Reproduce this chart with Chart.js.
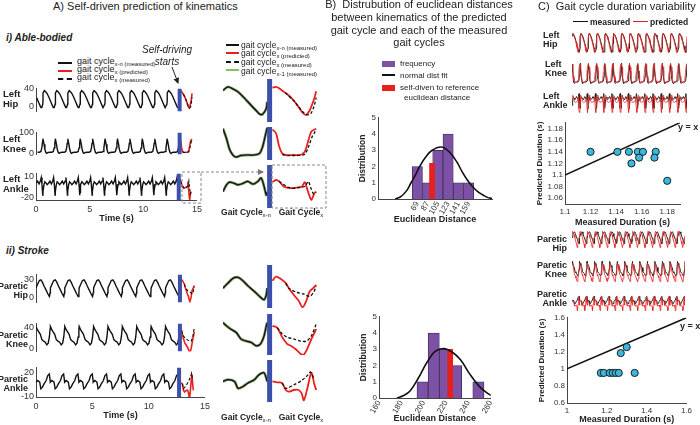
<!DOCTYPE html>
<html>
<head>
<meta charset="utf-8">
<script src="https://cdn.jsdelivr.net/npm/chart.js@4.4.1/dist/chart.umd.min.js"></script>
<style>
  body { margin: 0; background: #fff; }
  #fig { position: relative; width: 700px; height: 425px; overflow: hidden;
         font-family: 'Liberation Sans', Arial, sans-serif; color: #222; }
  #fig canvas { position: absolute; }
  .t { position: absolute; white-space: nowrap; line-height: 1.05; }
  sub { font-size: 6px; vertical-align: -2px; line-height: 0; font-weight: normal; }
  .sw { position: absolute; }
</style>
</head>
<body>
<div id="fig">
  <svg width="700" height="425" style="position:absolute;left:0;top:0;z-index:5;pointer-events:none">
    <defs>
      <marker id="ah" markerWidth="6" markerHeight="6" refX="5" refY="3" orient="auto">
        <path d="M0,0 L6,3 L0,6 z" fill="#777"/>
      </marker>
      <marker id="ak" markerWidth="6" markerHeight="6" refX="5" refY="3" orient="auto">
        <path d="M0,0 L6,3 L0,6 z" fill="#222"/>
      </marker>
    </defs>
    <rect x="182" y="172" width="19" height="31" fill="none" stroke="#888" stroke-width="1" stroke-dasharray="3,2"/>
    <line x1="201" y1="172" x2="263" y2="172" stroke="#888" stroke-width="1" stroke-dasharray="3,2" marker-end="url(#ah)"/>
    <rect x="272" y="165" width="54" height="43" fill="none" stroke="#888" stroke-width="1" stroke-dasharray="3,2"/>
    <line x1="172" y1="67" x2="178" y2="83" stroke="#222" stroke-width="1" marker-end="url(#ak)"/>
  </svg>
</div>
<script>
// ---- data ----
const timeTicks = [0, 5, 10, 15];

// one gait cycle per joint: [% of cycle, joint angle in deg]
// prev = cycle x-n (measured), pred = cycle x (predicted), meas = cycle x (measured)
const ableHipPrev = [[0,30],[11,35],[23,32],[34,28],[49,19],[64,9],[75,2],[83,-3],[90,-3],[98,5],[100,14]];
const ableHipPred = [[1,34],[9,35],[16,33],[27,28],[38,23],[49,16],[60,7],[69,-1],[77,-4],[85,2],[94,16],[100,29]];
const ableHipMeas = [[30,27],[50,15],[70,0],[80,-4],[88,-2],[95,8],[100,20]];

const ableKneePrev = [[0,68],[8,44],[15,18],[23,4],[30,0],[41,4],[56,5],[71,5],[83,9],[90,26],[95,48],[100,70]];
const ableKneePred = [[1,66],[9,57],[16,26],[23,9],[34,4],[49,5],[64,5],[74,13],[82,39],[89,61],[100,68]];
const ableKneeMeas = [[23,6],[40,4],[60,4],[74,7],[82,23],[90,47],[96,58],[100,66]];

const ableAnklePrev = [[0,-12],[8,-2],[15,2],[26,0],[34,-2],[45,0],[56,3],[68,-1],[79,3],[86,8],[92,-2],[98,-17],[100,-13]];
const ableAnklePred = [[1,2],[9,5],[16,3],[27,-5],[42,-7],[56,-6],[67,-5],[74,2],[78,-5],[84,-17],[89,-24],[96,-14],[100,-12]];
const ableAnkleMeas = [[16,3],[27,-2],[42,-7],[60,-6],[75,-4],[82,3],[88,-7],[94,-15],[100,-13]];

const strokeHipPrev = [[0,16],[11,22],[23,28],[34,29],[45,25],[56,19],[71,12],[83,6],[93,2],[98,8],[100,16]];
const strokeHipPred = [[1,25],[9,30],[20,27],[31,22],[38,16],[49,8],[60,1],[69,-7],[77,0],[85,12],[93,16],[100,20]];
const strokeHipMeas = [[31,22],[38,16],[56,11],[71,9],[85,6],[94,11],[100,18]];

const strokeKneePrev = [[0,42],[8,37],[18,32],[30,27],[41,17],[53,14],[64,12],[75,7],[85,10],[93,22],[98,37],[100,42]];
const strokeKneePred = [[1,37],[12,34],[23,20],[34,10],[42,7],[53,2],[64,-5],[71,-7],[78,0],[89,17],[100,32]];
const strokeKneeMeas = [[12,34],[23,25],[34,20],[50,17],[65,14],[78,14],[89,22],[100,40]];

const strokeAnklePrev = [[0,8],[11,10],[26,8],[34,0],[45,2],[56,6],[71,10],[82,16],[93,18],[99,10],[100,8]];
const strokeAnklePred = [[1,8],[12,7],[23,6],[31,-2],[38,-4],[49,-2],[60,-2],[67,-6],[72,-14],[80,0],[89,18],[96,4],[100,-2]];
const strokeAnkleMeas = [[23,6],[31,0],[49,4],[67,9],[82,16],[87,19],[94,12]];

const periodAble = 1.15, periodStroke = 1.27;       // s
const selfDriveAble = 13.3, selfDriveStroke = 12.7;  // s
const miniCyclesAble = 14, miniCyclesStroke = 15;

// B) histograms of euclidean distance
const ableBins = [69, 87, 105, 123, 141, 159];
const ableCounts = [2, 1, 3, 4, 1, 1];
const ableSelf = [[90.4, 2.2]];
const ableFit = [[30,0],[40,0.15],[50,0.5],[58,1.0],[66,1.5],[73,2.0],[84,2.6],[95,3.0],[111,3.2],[125,2.9],[138,2.3],[148,1.65],[157,1.15],[166,0.75],[175,0.45],[184,0.25],[192,0.1],[200,0.03]];

const strokeBins = [199, 209, 219, 229, 239, 249];
const strokeCounts = [1, 4, 3, 2, 0, 1];
const strokeSelf = [[221.5, 3]];
const strokeFit = [[176,0],[182,0.15],[188,0.45],[195,1.2],[203,2.2],[210,2.85],[218,3.05],[226,2.8],[233,2.35],[241,1.5],[250,0.7],[258,0.25],[262,0.1]];
const distTicks = [0, 1, 2, 3, 4, 5];
const strokeDistTicks = [160, 180, 200, 220, 240, 260];

// C) gait cycle durations (s)
const ableMeasured  = [1.12, 1.141, 1.150, 1.152, 1.157, 1.158, 1.161, 1.171, 1.170, 1.180];
const ablePredicted = [1.14, 1.14, 1.14, 1.12, 1.14, 1.13, 1.14, 1.14, 1.13, 1.09];
const strokeMeasured  = [1.17, 1.185, 1.215, 1.23, 1.245, 1.26, 1.34, 1.27, 1.30];
const strokePredicted = [0.953, 0.953, 0.953, 0.953, 0.953, 0.953, 0.953, 1.186, 1.256];
const ableDurTicksX = [1.1, 1.12, 1.14, 1.16, 1.18];
const ableDurTicksY = [1.06, 1.08, 1.1, 1.12, 1.14, 1.16, 1.18];
const strokeDurTicksX = [1, 1.2, 1.4, 1.6];
const strokeDurTicksY = [0.6, 0.8, 1, 1.2, 1.4, 1.6];

// ---- helpers ----
const BLUE = '#3c4fab', RED = '#e8201c', GREEN = '#86c25c', PURPLE = '#7d52a6', CYAN = '#3cb8de';
const fig = document.getElementById('fig');

Chart.defaults.font.family = "'Liberation Sans', Arial, sans-serif";
Chart.defaults.color = '#333';
Chart.defaults.animation = false;
Chart.defaults.plugins.legend.display = false;
Chart.defaults.plugins.tooltip.enabled = false;
Chart.defaults.elements.point.radius = 0;

function label(x, y, html, size, extra = '', align = 'l') {
  const d = document.createElement('div');
  d.className = 't';
  const tx = align === 'c' ? '-50%' : align === 'r' ? '-100%' : '0';
  d.style.cssText = `left:${x}px;top:${y}px;font-size:${size}px;transform:translate(${tx},-50%);text-align:${align === 'r' ? 'right' : align === 'c' ? 'center' : 'left'};${extra}`;
  d.innerHTML = html;
  fig.appendChild(d);
}
function swatch(x, y, w, h, css) {
  const d = document.createElement('div');
  d.className = 'sw';
  d.style.cssText = `left:${x}px;top:${y}px;width:${w}px;height:${h}px;${css}`;
  fig.appendChild(d);
}

// canvas whose chart area lands on `area` (page pixels)
function mount(area, yW = 0, xH = 0) {
  const c = document.createElement('canvas');
  const w = yW + area.w + 8, h = 6 + area.h + (xH || 6);
  c.width = w; c.height = h;
  c.style.cssText = `left:${area.x - yW}px;top:${area.y - 6}px;width:${w}px;height:${h}px`;
  fig.appendChild(c);
  return c;
}
function base(xH) {
  return { responsive: false, layout: { padding: { left: 0, top: 6, right: 8, bottom: xH ? 0 : 6 } } };
}
function shownAxis(min, max, ticks, size, extra, pad = 2) {
  return Object.assign({
    type: 'linear', min, max,
    grid: { display: false, drawTicks: false },
    border: { color: '#444', width: 1 },
    ticks: { font: { size }, color: '#333', padding: pad, autoSkip: false, callback: v => String(v) },
    afterBuildTicks: s => { s.ticks = ticks.map(value => ({ value })); }
  }, extra);
}
function hidden(min, max) { return { type: 'linear', min, max, display: false }; }

function repeatCycles(cycle, period, from, to) {
  const pts = [];
  for (let t0 = from; t0 < to - 1e-6; t0 += period)
    cycle.forEach(([p, v]) => pts.push({ x: t0 + p / 100 * period, y: v }));
  return pts;
}

// A) left: time series with self-driving start
function kinematicsPanel(area, yR, yTicks, prev, pred, meas, period, tBar, xMax, withTime) {
  const start = tBar - period * Math.ceil(tBar / period);
  const before = repeatCycles(prev, period, start, tBar).filter(p => p.x >= 0 && p.x <= tBar);
  const after = arr => arr.map(([p, v]) => ({ x: tBar + p / 100 * period, y: v }));
  const xH = withTime ? 24 : 0;
  new Chart(mount(area, 20, xH), {
    type: 'line',
    data: { datasets: [
      { data: [{ x: tBar, y: yR[0] }, { x: tBar, y: yR[1] }], borderColor: BLUE, borderWidth: 4 },
      { data: after(meas), borderColor: '#111', borderWidth: 1.1, borderDash: [3, 2] },
      { data: after(pred), borderColor: RED, borderWidth: 1.6 },
      { data: before, borderColor: '#111', borderWidth: 1.4 }
    ] },
    options: { ...base(xH), scales: {
      x: withTime ? shownAxis(0, xMax, timeTicks, 9, {
            afterFit: s => { s.height = xH; },
            title: { display: true, text: 'Time (s)', font: { size: 9, weight: 'bold' }, color: '#222', padding: 0 } }, 4)
          : hidden(0, xMax),
      y: shownAxis(yR[0], yR[1], yTicks, 9, { afterFit: s => { s.width = 20; } })
    } }
  });
}

// A) middle: one cycle before / after the self-driving start
function cyclePanel(area, yR, prev, pred, meas) {
  const shift = arr => arr.map(([p, v]) => ({ x: p + 111, y: v }));
  const left = prev.map(([p, v]) => ({ x: p, y: v }));
  new Chart(mount(area), {
    type: 'line',
    data: { datasets: [
      { data: [{ x: 105.5, y: yR[0] }, { x: 105.5, y: yR[1] }], borderColor: BLUE, borderWidth: 5 },
      { data: shift(meas), borderColor: '#111', borderWidth: 1.3, borderDash: [3, 2], tension: 0.3 },
      { data: shift(pred), borderColor: RED, borderWidth: 1.8, tension: 0.3 },
      { data: left, borderColor: '#111', borderWidth: 1.2, tension: 0.3 },
      { data: left, borderColor: '#7a7a7a', borderWidth: 2.0, tension: 0.3 },
      { data: left, borderColor: GREEN, borderWidth: 2.8, tension: 0.3 }
    ] },
    options: { ...base(0), scales: { x: hidden(0, 215), y: hidden(yR[0], yR[1]) } }
  });
}

// B) histogram with normal fit
function histPanel(area, xR, xTicks, bins, counts, self, fit) {
  new Chart(mount(area, 20, 26), {
    type: 'bar',
    data: { datasets: [
      { type: 'line', data: fit.map(([x, y]) => ({ x, y })), borderColor: '#111', borderWidth: 1.6, tension: 0.4 },
      { data: self.map(([x, y]) => ({ x, y })), xAxisID: 'x2', backgroundColor: RED, barThickness: 5 },
      { data: bins.map((x, i) => ({ x, y: counts[i] })), backgroundColor: PURPLE, borderColor: '#3b2a4c',
        borderWidth: 0.8, barPercentage: 1, categoryPercentage: 1, grouped: false }
    ] },
    options: { ...base(26), scales: {
      x: shownAxis(xR[0], xR[1], xTicks, 8, { offset: false,
            ticks: { font: { size: 8 }, color: '#333', padding: 1, autoSkip: false, minRotation: 60, maxRotation: 60, callback: v => String(v) },
            afterFit: s => { s.height = 26; },
            title: { display: true, text: 'Euclidean Distance', font: { size: 9, weight: 'bold' }, color: '#222', padding: 0 } }),
      x2: { ...hidden(xR[0], xR[1]), offset: false },
      y: shownAxis(0, 5, distTicks, 8, { afterFit: s => { s.width = 20; },
            title: { display: true, text: 'Distribution', font: { size: 8.5, weight: 'bold' }, color: '#222', padding: 0 } })
    } }
  });
}

// C) measured vs predicted durations
function durationPanel(area, xR, yR, xT, yT, measured, predicted, xH) {
  new Chart(mount(area, 30, xH), {
    type: 'scatter',
    data: { datasets: [
      { data: measured.map((m, i) => ({ x: m, y: predicted[i] })), pointRadius: 3.6,
        backgroundColor: CYAN, borderColor: '#111', borderWidth: 0.9 },
      { type: 'line', data: [xR[0], xR[1]].map(v => ({ x: v, y: v })), borderColor: '#111', borderWidth: 1.5 }
    ] },
    options: { ...base(xH), scales: {
      x: shownAxis(xR[0], xR[1], xT, 8, { afterFit: s => { s.height = xH; },
            title: { display: true, text: 'Measured Duration (s)', font: { size: 9, weight: 'bold' }, color: '#222', padding: 0 } }, 3),
      y: shownAxis(yR[0], yR[1], yT, 8, { afterFit: s => { s.width = 30; },
            title: { display: true, text: 'Predicted Duration (s)', font: { size: 8, weight: 'bold' }, color: '#222', padding: 0 } })
    } }
  });
}

// C) small measured / predicted traces
function miniPanel(area, yR, prev, pred, period, cycles) {
  const end = period * cycles;
  new Chart(mount(area), {
    type: 'line',
    data: { datasets: [
      { data: repeatCycles(pred, period, 0, end), borderColor: 'rgba(235,40,40,0.85)', borderWidth: 1 },
      { data: repeatCycles(prev, period, 0, end), borderColor: '#222', borderWidth: 1 }
    ] },
    options: { ...base(0), scales: { x: hidden(0, end), y: hidden(yR[0], yR[1]) } }
  });
}

// ---- A ----
kinematicsPanel({ x: 36, y: 87, w: 162, h: 26 }, [-12, 40], [0, 40], ableHipPrev, ableHipPred, ableHipMeas, periodAble, selfDriveAble, 15, false);
kinematicsPanel({ x: 36, y: 131, w: 162, h: 25 }, [-6, 100], [0, 100], ableKneePrev, ableKneePred, ableKneeMeas, periodAble, selfDriveAble, 15, false);
kinematicsPanel({ x: 36, y: 172, w: 162, h: 28 }, [-24, 14], [-20, 10], ableAnklePrev, ableAnklePred, ableAnkleMeas, periodAble, selfDriveAble, 15, true);
kinematicsPanel({ x: 36, y: 273, w: 170, h: 31 }, [-8, 38], [0, 30], strokeHipPrev, strokeHipPred, strokeHipMeas, periodStroke, selfDriveStroke, 15, false);
kinematicsPanel({ x: 36, y: 322, w: 170, h: 31 }, [-6, 48], [0, 40], strokeKneePrev, strokeKneePred, strokeKneeMeas, periodStroke, selfDriveStroke, 15, false);
kinematicsPanel({ x: 36, y: 366, w: 170, h: 31 }, [-10, 26], [-10, 20], strokeAnklePrev, strokeAnklePred, strokeAnkleMeas, periodStroke, selfDriveStroke, 15, true);

cyclePanel({ x: 223, y: 79, w: 95, h: 43 }, [-14, 46], ableHipPrev, ableHipPred, ableHipMeas);
cyclePanel({ x: 223, y: 127, w: 95, h: 33 }, [-7, 72], ableKneePrev, ableKneePred, ableKneeMeas);
cyclePanel({ x: 223, y: 165, w: 95, h: 43 }, [-36, 27], ableAnklePrev, ableAnklePred, ableAnkleMeas);
cyclePanel({ x: 223, y: 265, w: 95, h: 43 }, [-8, 44], strokeHipPrev, strokeHipPred, strokeHipMeas);
cyclePanel({ x: 223, y: 314, w: 95, h: 41 }, [-7, 55], strokeKneePrev, strokeKneePred, strokeKneeMeas);
cyclePanel({ x: 223, y: 360, w: 95, h: 42 }, [-16, 33], strokeAnklePrev, strokeAnklePred, strokeAnkleMeas);

// ---- B ----
histPanel({ x: 378, y: 117, w: 114, h: 82 }, [0, 200], ableBins, ableBins, ableCounts, ableSelf, ableFit);
histPanel({ x: 379, y: 316, w: 113, h: 82 }, [160, 260], strokeDistTicks, strokeBins, strokeCounts, strokeSelf, strokeFit);

// ---- C ----
miniPanel({ x: 572, y: 33, w: 115, h: 20 }, [-5, 36], ableHipPrev, ableHipPred, periodAble, miniCyclesAble);
miniPanel({ x: 572, y: 63, w: 115, h: 21 }, [-2, 72], ableKneePrev, ableKneePred, periodAble, miniCyclesAble);
miniPanel({ x: 572, y: 93, w: 115, h: 20 }, [-25, 9], ableAnklePrev, ableAnklePred, periodAble, miniCyclesAble);
miniPanel({ x: 572, y: 231, w: 113, h: 17 }, [-8, 31], strokeHipPrev, strokeHipPred, periodStroke, miniCyclesStroke);
miniPanel({ x: 572, y: 261, w: 113, h: 21 }, [-8, 43], strokeKneePrev, strokeKneePred, periodStroke, miniCyclesStroke);
miniPanel({ x: 572, y: 296, w: 113, h: 15 }, [-15, 19], strokeAnklePrev, strokeAnklePred, periodStroke, miniCyclesStroke);

durationPanel({ x: 565, y: 122, w: 115, h: 82 }, [1.1, 1.19], [1.05, 1.19], ableDurTicksX, ableDurTicksY, ableMeasured, ablePredicted, 24);
durationPanel({ x: 567, y: 317, w: 120, h: 86 }, [1, 1.6], [0.6, 1.6], strokeDurTicksX, strokeDurTicksY, strokeMeasured, strokePredicted, 22);

// ---- texts ----
label(53, 7, 'A) Self-driven prediction of kinematics', 11);
label(6, 38, 'i) Able-bodied', 10, 'font-weight:bold;font-style:italic');
label(6, 251, 'ii) Stroke', 10, 'font-weight:bold;font-style:italic');

swatch(58, 62, 14, 0, 'border-top:2px solid #111');
swatch(58, 70, 14, 0, 'border-top:2px solid ' + RED);
swatch(58, 78, 14, 0, 'border-top:2px dashed #111');
label(77, 62, 'gait cycle<sub>x-n (measured)</sub>', 9);
label(77, 70, 'gait cycle<sub>x (predicted)</sub>', 9);
label(77, 78, 'gait cycle<sub>x (measured)</sub>', 9);
label(167, 50, 'Self-driving', 10, 'font-style:italic', 'c');
label(167, 62, 'starts', 10, 'font-style:italic', 'c');

label(3, 99, 'Left<br>Hip', 9.5, 'font-weight:bold');
label(3, 144, 'Left<br>Knee', 9.5, 'font-weight:bold');
label(3, 184, 'Left<br>Ankle', 9.5, 'font-weight:bold');
label(28, 291, 'Paretic<br>Hip', 9, 'font-weight:bold', 'r');
label(28, 340, 'Paretic<br>Knee', 9, 'font-weight:bold', 'r');
label(28, 384, 'Paretic<br>Ankle', 9, 'font-weight:bold', 'r');

swatch(226, 44, 13, 0, 'border-top:2px solid #111');
swatch(226, 52, 13, 0, 'border-top:2px solid ' + RED);
swatch(226, 61, 13, 0, 'border-top:2px dashed #111');
swatch(226, 69, 13, 0, 'border-top:2px solid ' + GREEN);
label(241, 45, 'gait cycle<sub>x-n (measured)</sub>', 8.5);
label(241, 53, 'gait cycle<sub>x (predicted)</sub>', 8.5);
label(241, 62, 'gait cycle<sub>x (measured)</sub>', 8.5);
label(241, 71, 'gait cycle<sub>x-1 (measured)</sub>', 8.5);
label(246, 212, 'Gait Cycle<sub>x-n</sub>', 8.5, 'font-weight:bold', 'c');
label(301, 212, 'Gait Cycle<sub>x</sub>', 8.5, 'font-weight:bold', 'c');
label(246, 417, 'Gait Cycle<sub>x-n</sub>', 8.5, 'font-weight:bold', 'c');
label(301, 417, 'Gait Cycle<sub>x</sub>', 8.5, 'font-weight:bold', 'c');

label(419, 24, 'B)&nbsp; Distrubution of euclidean distances<br>between kinematics of the predicted<br>gait cycle and each of the measured<br>gait cycles', 11, 'line-height:12.8px', 'c');
swatch(382, 61, 13, 6, 'background:' + PURPLE);
swatch(382, 74, 13, 0, 'border-top:2.5px solid #111');
swatch(382, 85, 13, 6, 'background:' + RED);
label(400, 64, 'frequency', 8);
label(400, 76, 'normal dist fit', 8);
label(400, 88, 'self-diven to reference', 8);
label(404, 98, 'euclidean distance', 8);

label(538, 7, 'C)&nbsp; Gait cycle duration variability', 11);
swatch(573, 21, 15, 0, 'border-top:1.5px solid #111');
label(590, 22, 'measured', 8.5, 'font-weight:bold');
swatch(633, 21, 15, 0, 'border-top:1.5px solid ' + RED);
label(650, 22, 'predicted', 8.5, 'font-weight:bold');
label(543, 40, 'Left<br>Hip', 9, 'font-weight:bold');
label(545, 69, 'Left<br>Knee', 9, 'font-weight:bold');
label(543, 101, 'Left<br>Ankle', 9, 'font-weight:bold');
label(567, 244, 'Paretic<br>Hip', 9, 'font-weight:bold', 'r');
label(567, 270, 'Paretic<br>Knee', 9, 'font-weight:bold', 'r');
label(567, 299, 'Paretic<br>Ankle', 9, 'font-weight:bold', 'r');
label(678, 128, 'y = x', 9, 'font-weight:bold');
label(680, 327, 'y = x', 9, 'font-weight:bold');
</script>
</body>
</html>
